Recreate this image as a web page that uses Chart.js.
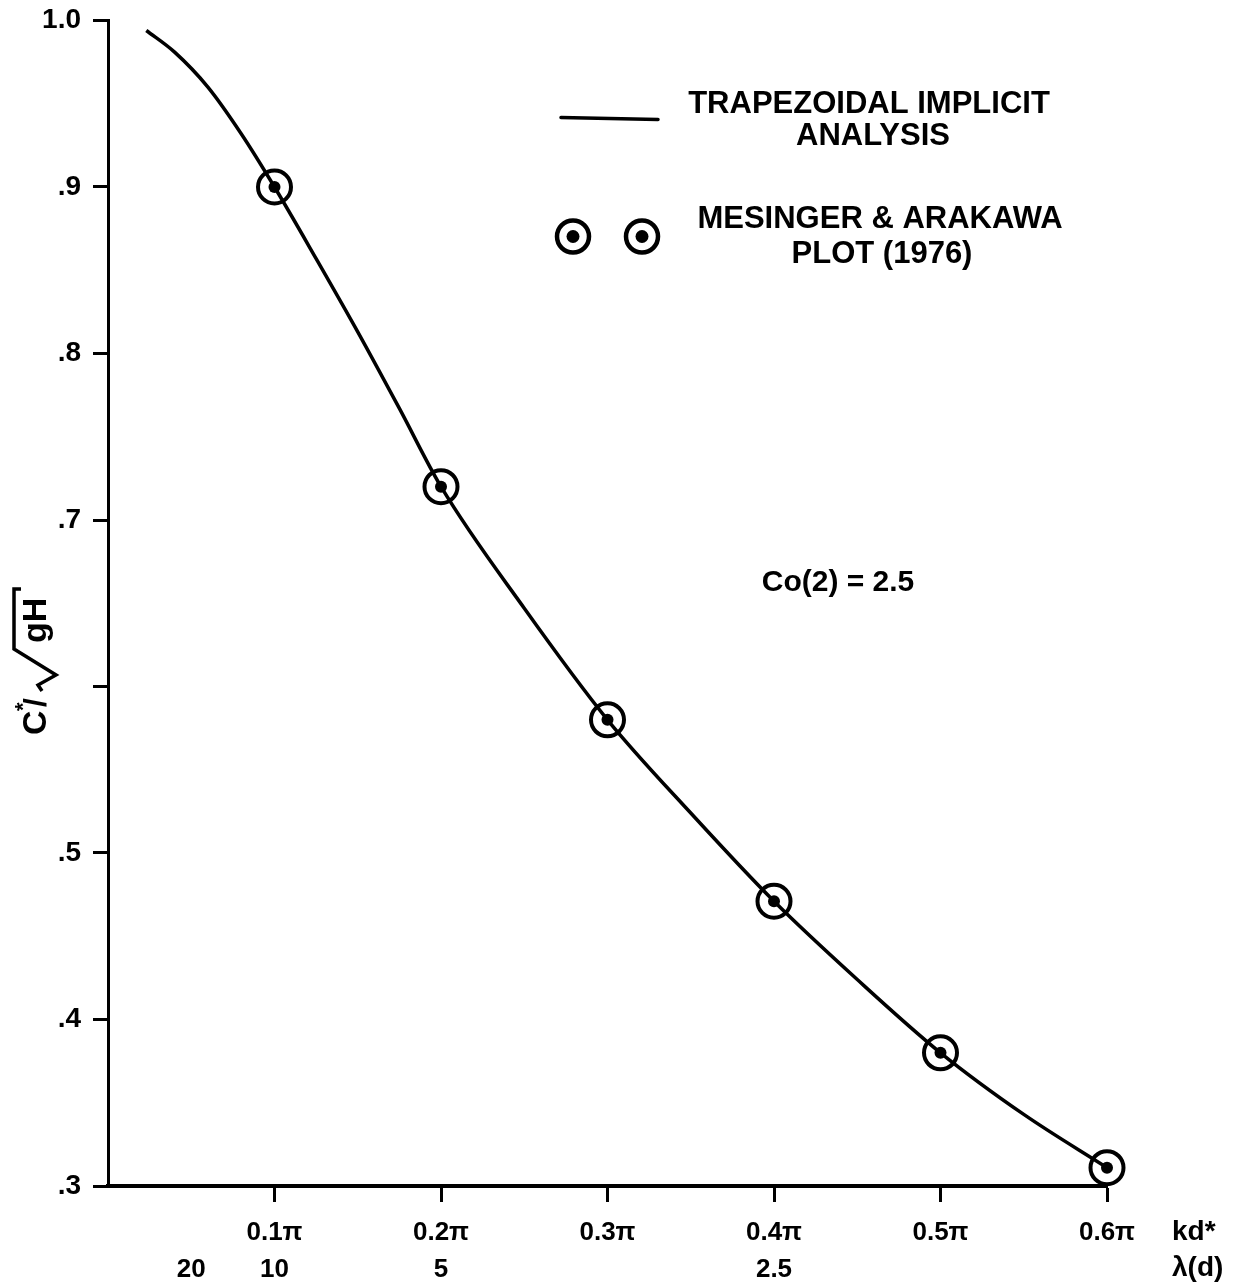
<!DOCTYPE html>
<html>
<head>
<meta charset="utf-8">
<script src="https://cdn.jsdelivr.net/npm/chart.js@4/dist/chart.umd.min.js"></script>
<style>
  html, body { margin: 0; padding: 0; background: #fff; }
  #wrap { width: 1245px; height: 1284px; position: relative; }
</style>
</head>
<body>
<div id="wrap"><canvas id="c" width="1245" height="1284"></canvas></div>
<script>
// ---- data (x in units of pi for kd*, y = C*/sqrt(gH)) ----
const curveX = [0.023, 0.04, 0.06, 0.08, 0.1, 0.125, 0.15, 0.175, 0.2, 0.25, 0.3, 0.35, 0.4, 0.45, 0.5, 0.55, 0.6];
const curveY = [0.994, 0.981, 0.960, 0.932, 0.900, 0.857, 0.813, 0.767, 0.720, 0.647, 0.580, 0.524, 0.471, 0.424, 0.380, 0.343, 0.311];

const pointsX = [0.1, 0.2, 0.3, 0.4, 0.5, 0.6];
const pointsY = [0.90, 0.72, 0.58, 0.471, 0.380, 0.311];

const xTickValues = [0.05, 0.1, 0.2, 0.3, 0.4, 0.5, 0.6];
const kdLabels = ["", "0.1\u03C0", "0.2\u03C0", "0.3\u03C0", "0.4\u03C0", "0.5\u03C0", "0.6\u03C0"];
const lambdaLabels = ["20", "10", "5", "", "2.5", "", ""];

const yTickValues = [0.3, 0.4, 0.5, 0.6, 0.7, 0.8, 0.9, 1.0];
const yTickLabels = [".3", ".4", ".5", "", ".7", ".8", ".9", "1.0"];

const legendLine1 = ["TRAPEZOIDAL IMPLICIT", "ANALYSIS"];
const legendLine2 = ["MESINGER & ARAKAWA", "PLOT (1976)"];
const noteText = "Co(2) = 2.5";
const xAxisNames = ["kd*", "\u03BB(d)"];

const FONT = "'Liberation Sans', Arial, Helvetica, sans-serif";

const annotate = {
  id: 'annotate',
  afterDraw(chart) {
    const ctx = chart.ctx;
    const a = chart.chartArea;
    ctx.save();
    ctx.fillStyle = '#000';
    ctx.strokeStyle = '#000';

    // Legend: line sample
    ctx.lineWidth = 3.5;
    ctx.lineCap = 'round';
    ctx.beginPath();
    ctx.moveTo(a.left + 453, a.top + 97);
    ctx.lineTo(a.left + 550, a.top + 99);
    ctx.stroke();

    ctx.font = 'bold 31px ' + FONT;
    ctx.textAlign = 'center';
    ctx.textBaseline = 'middle';
    ctx.fillText(legendLine1[0], a.left + 761, a.top + 84);
    ctx.fillText(legendLine1[1], a.left + 765, a.top + 116);
    ctx.fillText(legendLine2[0], a.left + 772, a.top + 199);
    ctx.fillText(legendLine2[1], a.left + 774, a.top + 234);

    // Legend: marker symbols
    [a.left + 465, a.left + 534].forEach(cx => {
      const cy = a.top + 216;
      ctx.lineWidth = 4.5;
      ctx.beginPath();
      ctx.arc(cx, cy, 16, 0, Math.PI * 2);
      ctx.stroke();
      ctx.beginPath();
      ctx.arc(cx, cy, 6.5, 0, Math.PI * 2);
      ctx.fill();
    });

    // Note
    ctx.font = 'bold 30px ' + FONT;
    ctx.fillText(noteText, a.left + 730, a.top + 562);

    // Axis names at right of x axis
    ctx.textAlign = 'left';
    ctx.font = 'bold 28px ' + FONT;
    ctx.fillText(xAxisNames[0], a.right + 65, a.bottom + 46);
    ctx.fillText(xAxisNames[1], a.right + 65, a.bottom + 82);

    // Y axis title: C*/sqrt(gH), rotated, reading bottom to top
    ctx.translate(46, 735);
    ctx.rotate(-Math.PI / 2);
    ctx.textAlign = 'left';
    ctx.textBaseline = 'alphabetic';
    ctx.font = 'bold 34px ' + FONT;
    ctx.fillText('C', 0, 0);
    ctx.font = 'bold 22px ' + FONT;
    ctx.fillText('*', 24, -16);
    ctx.font = 'bold 32px ' + FONT;
    ctx.fillText('/', 28, 0);
    // radical sign
    ctx.lineWidth = 3.5;
    ctx.lineJoin = 'miter';
    ctx.lineCap = 'butt';
    ctx.beginPath();
    ctx.moveTo(44, -4);
    ctx.lineTo(50, -8);
    ctx.lineTo(60, 10);
    ctx.lineTo(86, -32);
    ctx.lineTo(146, -32);
    ctx.lineTo(146, -25);
    ctx.stroke();
    ctx.font = 'bold 34px ' + FONT;
    ctx.fillText('gH', 92, 0);

    ctx.restore();
  }
};

new Chart(document.getElementById('c'), {
  type: 'scatter',
  data: {
    datasets: [
      {
        type: 'line',
        label: 'Trapezoidal implicit analysis',
        data: curveX.map((v, i) => ({ x: v, y: curveY[i] })),
        borderColor: '#000',
        borderWidth: 3.5,
        pointRadius: 0,
        cubicInterpolationMode: 'monotone',
        fill: false,
        clip: false,
        order: 3
      },
      {
        label: 'Mesinger & Arakawa rings',
        data: pointsX.map((v, i) => ({ x: v, y: pointsY[i] })),
        pointRadius: 16.5,
        pointBorderWidth: 4,
        pointBorderColor: '#000',
        pointBackgroundColor: 'rgba(0,0,0,0)',
        clip: false,
        order: 2
      },
      {
        label: 'Mesinger & Arakawa dots',
        data: pointsX.map((v, i) => ({ x: v, y: pointsY[i] })),
        pointRadius: 6,
        pointBorderWidth: 0,
        pointBackgroundColor: '#000',
        clip: false,
        order: 1
      }
    ]
  },
  options: {
    responsive: false,
    animation: false,
    layout: { padding: { left: 0, top: 20, right: 138, bottom: 0 } },
    plugins: { legend: { display: false }, tooltip: { enabled: false } },
    scales: {
      x: {
        type: 'linear',
        min: 0,
        max: 0.6,
        afterBuildTicks: s => { s.ticks = xTickValues.map(v => ({ value: v })); },
        afterFit: s => { s.height = 98; s.paddingLeft = 0; s.paddingRight = 0; },
        border: { display: true, color: '#000', width: 4 },
        grid: {
          drawOnChartArea: false,
          drawTicks: true,
          tickLength: 16,
          tickWidth: 3,
          tickColor: c => (c.index === 0 ? 'rgba(0,0,0,0)' : '#000')
        },
        ticks: {
          autoSkip: false,
          maxRotation: 0,
          padding: 13,
          color: '#000',
          font: { family: FONT, size: 26, weight: 'bold', lineHeight: 1.4 },
          callback: (v, i) => [kdLabels[i], lambdaLabels[i]]
        }
      },
      y: {
        type: 'linear',
        min: 0.3,
        max: 1.0,
        afterBuildTicks: s => { s.ticks = yTickValues.map(v => ({ value: v })); },
        afterFit: s => { s.width = 108; s.paddingTop = 0; s.paddingBottom = 0; },
        border: { display: true, color: '#000', width: 3 },
        grid: {
          drawOnChartArea: false,
          drawTicks: true,
          tickLength: 15,
          tickWidth: 3,
          tickColor: '#000'
        },
        ticks: {
          padding: 12,
          color: '#000',
          font: { family: FONT, size: 28, weight: 'bold' },
          callback: (v, i) => yTickLabels[i]
        }
      }
    }
  },
  plugins: [annotate]
});
</script>
</body>
</html>
